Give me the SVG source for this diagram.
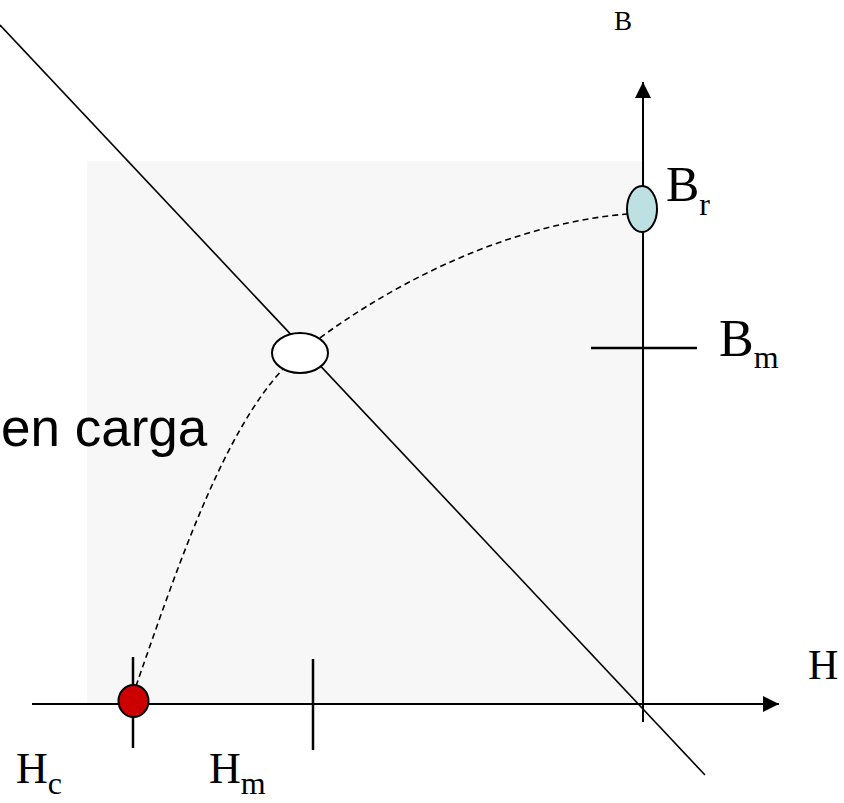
<svg xmlns="http://www.w3.org/2000/svg" width="844" height="803" viewBox="0 0 844 803">
<style>
.ax{stroke:#000;stroke-width:2;fill:none}
.tk{stroke:#000;stroke-width:2.5;fill:none}
.serif{font-family:"Liberation Serif","Times New Roman",serif;fill:#000}
.sans{font-family:"Liberation Sans",Arial,sans-serif;fill:#000}
.node{stroke:#000;stroke-width:2}
</style>
<defs>
<marker id="arrB" viewBox="0 0 10 10" refX="10" refY="5" markerWidth="16" markerHeight="16" markerUnits="userSpaceOnUse" orient="auto">
<path d="M0,0 L10,5 L0,10 Z" fill="#000"/>
</marker>
</defs>
<rect id="region" x="87" y="161" width="558" height="543" fill="#f7f7f7"/>
<g id="connectors">
<line class="ax" x1="32" y1="704" x2="779" y2="704" marker-end="url(#arrB)"/>
<line class="ax" x1="643" y1="722" x2="643" y2="82" stroke-width="1.6" marker-end="url(#arrB)"/>
<line x1="0" y1="25" x2="705" y2="775" stroke="#000" stroke-width="1.6"/>
<path d="M136,686 C180,560 230,410 300,353 C380,290 500,225 627,214" fill="none" stroke="#000" stroke-width="1.6" stroke-dasharray="6,4"/>
<line class="tk" x1="133" y1="657" x2="133" y2="748"/>
<line class="tk" x1="313" y1="659" x2="313" y2="750"/>
<line class="tk" x1="591" y1="348" x2="697" y2="348"/>
</g>
<g id="Hc-point"><ellipse class="node" cx="133.5" cy="701" rx="15" ry="16" fill="#cc0000"/></g>
<g id="operating-point"><ellipse class="node" cx="300" cy="353" rx="28" ry="20" fill="#fff"/></g>
<g id="Br-point"><ellipse class="node" cx="642" cy="209" rx="15" ry="23" fill="#bde0e3"/></g>
<g id="labels">
<text class="serif" x="614" y="30" font-size="27">B</text>
<text class="serif" x="666" y="201" font-size="50">B<tspan font-size="32" dy="14">r</tspan></text>
<text class="serif" x="719" y="356" font-size="52">B<tspan font-size="32" dy="12">m</tspan></text>
<text class="serif" x="808" y="679" font-size="42">H</text>
<text class="serif" x="16" y="783" font-size="44">H<tspan font-size="32" dy="11">c</tspan></text>
<text class="serif" x="209" y="783" font-size="44">H<tspan font-size="32" dy="11">m</tspan></text>
<text class="sans" x="1" y="446" font-size="53">en carga</text>
</g>
</svg>
